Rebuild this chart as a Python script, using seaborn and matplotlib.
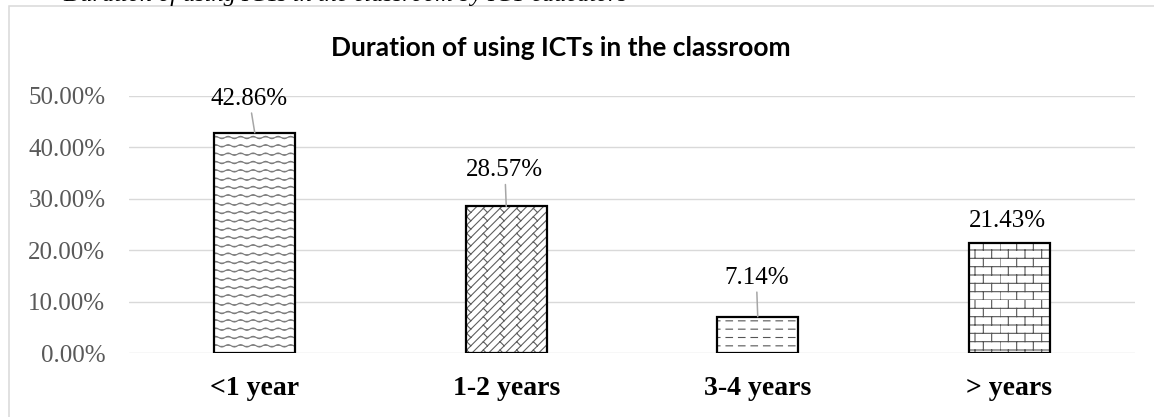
"""
Bar chart: duration of using ICTs in the classroom.
Excel-style look: hatched white bars, serif tick labels, leader lines.
"""
import warnings

import matplotlib
matplotlib.use("Agg")
import matplotlib.hatch as mhatch
import matplotlib.pyplot as plt
import numpy as np
import pandas as pd
import seaborn as sns
from matplotlib.patches import Rectangle
from matplotlib.path import Path

warnings.filterwarnings("ignore")

# ---------------------------------------------------------------------------
# Data
# ---------------------------------------------------------------------------
categories = ["<1 year", "1-2 years", "3-4 years", "> years"]
shares = [42.86, 28.57, 7.14, 21.43]          # percent
y_ticks = [0, 10, 20, 30, 40, 50]

TITLE = "Duration of using ICTs in the classroom"
CAPTION = "Duration of using ICTs in the classroom by ICT educators"

# styling (not data)
hatches = ["~~", "d", "__", "b"]
hatch_colors = ["#7a7a7a", "#5f5f5f", "#555555", "#555555"]
label_offsets = [(-4, 24.5), (-1, 26), (-1, 28), (-1, 16)]   # points
leaders = [True, True, True, False]
GRID_GREY = "#d9d9d9"
SERIF = ["Liberation Serif", "DejaVu Serif"]


# ---------------------------------------------------------------------------
# Extra hatch patterns (Excel "wave", "diagonal brick", "dashed", "brick")
# ---------------------------------------------------------------------------
class WaveHatch(mhatch.HatchPatternBase):
    def __init__(self, hatch, density):
        self.num_rows = int(hatch.count("~") * density)
        self.n_pts = 8 * 8 + 1
        self.num_vertices = self.num_rows * self.n_pts

    def set_vertices_and_codes(self, vertices, codes):
        x = np.linspace(0.0, 1.0, self.n_pts)
        for i in range(self.num_rows):
            sl = slice(i * self.n_pts, (i + 1) * self.n_pts)
            vertices[sl, 0] = x
            vertices[sl, 1] = (i + 0.5) / self.num_rows + 0.012 * np.sin(2 * np.pi * 8 * x)
            codes[sl] = Path.LINETO
            codes[i * self.n_pts] = Path.MOVETO


class DashHatch(mhatch.HatchPatternBase):
    def __init__(self, hatch, density):
        self.num_rows = int(hatch.count("_") * density)
        self.n_dash = 8
        self.num_vertices = self.num_rows * self.n_dash * 2

    def set_vertices_and_codes(self, vertices, codes):
        k = 0
        for i in range(self.num_rows):
            y = (i + 0.5) / self.num_rows
            for j in range(self.n_dash):
                x0 = j / self.n_dash + 0.01
                vertices[k] = (x0, y)
                vertices[k + 1] = (x0 + 0.065, y)
                codes[k] = Path.MOVETO
                codes[k + 1] = Path.LINETO
                k += 2


class BrickHatch(mhatch.HatchPatternBase):
    def __init__(self, hatch, density):
        n = hatch.count("b")
        self.rows = 2 * n * density          # 12 rows per inch
        self.bricks = n * density            # 6 bricks per inch
        self.num_vertices = 2 * self.rows + 2 * self.rows * self.bricks

    def set_vertices_and_codes(self, vertices, codes):
        segs = []
        for i in range(self.rows):
            y0, y1 = i / self.rows, (i + 1) / self.rows
            segs.append(((0.0, y0), (1.0, y0)))
            shift = (i % 2) * 0.5 / self.bricks
            for j in range(self.bricks):
                x = j / self.bricks + shift
                segs.append(((x, y0), (x, y1)))
        for k, (a, b) in enumerate(segs):
            vertices[2 * k] = a
            vertices[2 * k + 1] = b
            codes[2 * k] = Path.MOVETO
            codes[2 * k + 1] = Path.LINETO


class DiagBrickHatch(mhatch.HatchPatternBase):
    def __init__(self, hatch, density):
        n = hatch.count("d")
        self.m = 2 * n * density             # diagonal lines per inch
        self.q = n * density                 # cross marks per unit along a line
        self.n_lines = 2 * self.m
        self.num_vertices = 2 * self.n_lines + 2 * self.n_lines * 3 * self.q

    def set_vertices_and_codes(self, vertices, codes):
        segs = []
        half = 0.5 / self.m
        for k in range(-self.m, self.m):
            c = k / self.m
            segs.append(((c, 0.0), (c + 1.0, 1.0)))
            shift = (k % 2) * 0.5 / self.q
            for j in range(-self.q, 2 * self.q):
                t = j / self.q + shift
                segs.append(((t + c, t), (t + c + half, t - half)))
        for k, (a, b) in enumerate(segs):
            vertices[2 * k] = a
            vertices[2 * k + 1] = b
            codes[2 * k] = Path.MOVETO
            codes[2 * k + 1] = Path.LINETO


mhatch._hatch_types.extend([WaveHatch, DashHatch, BrickHatch, DiagBrickHatch])


# ---------------------------------------------------------------------------
# Plot
# ---------------------------------------------------------------------------
def main() -> None:
    sns.set_theme(style="white")
    plt.rcParams["font.family"] = ["DejaVu Sans"]
    plt.rcParams["hatch.linewidth"] = 0.8

    df = pd.DataFrame({"duration": categories, "share": shares})

    fig, ax = plt.subplots(figsize=(11.54, 4.17), dpi=100)
    fig.subplots_adjust(left=0.1118, right=0.9835, bottom=0.1523, top=0.7698)

    sns.barplot(data=df, x="duration", y="share", color="white", width=0.322,
                linewidth=0, saturation=1, ax=ax, zorder=2)

    for patch, h, hc in zip(ax.patches, hatches, hatch_colors):
        patch.set_edgecolor(hc)
        patch.set_hatch(h)
        ax.add_patch(Rectangle(patch.get_xy(), patch.get_width(), patch.get_height(),
                               fill=False, edgecolor="black", linewidth=1.6, zorder=3))

    # data labels with leader lines
    for i, (v, off, lead) in enumerate(zip(shares, label_offsets, leaders)):
        arrow = dict(arrowstyle="-", color="#a6a6a6", lw=1.1, shrinkA=0, shrinkB=0) if lead else None
        ax.annotate(f"{v:.2f}%", xy=(i, v), xytext=off, textcoords="offset points",
                    ha="center", va="center", fontsize=18, family=SERIF,
                    color="black", arrowprops=arrow, zorder=4)

    ax.set_ylim(0, 50)
    ax.set_yticks(y_ticks)
    ax.set_yticklabels([f"{t:.2f}%" for t in y_ticks], family=SERIF,
                       fontsize=18, color="#595959")
    ax.set_xticks(range(len(categories)))
    ax.set_xticklabels(categories, family=SERIF, fontsize=20, fontweight="bold",
                       color="black")
    ax.tick_params(axis="y", length=0, pad=17)
    ax.tick_params(axis="x", length=0, pad=16)
    ax.set_xlabel("")
    ax.set_ylabel("")

    ax.yaxis.grid(True, color=GRID_GREY, linewidth=1.0)
    ax.set_axisbelow(True)
    sns.despine(ax=ax, left=True, bottom=True)

    # chart title and chart-area frame
    fig.text(0.486, 0.885, TITLE, ha="center", va="center", fontsize=19,
             fontweight="bold", family=["Lato", "DejaVu Sans"], color="black")
    fig.patches.append(Rectangle((9 / 1154, -0.2), 1.2, 1.2 - 6.5 / 417,
                                 transform=fig.transFigure, fill=False,
                                 edgecolor=GRID_GREY, linewidth=1.1, zorder=0))

    # document caption, cut off at the top edge of the picture (as in the source)
    fig.text(0.055, 1 - 1 / 417, CAPTION, ha="left", va="baseline", fontsize=17.5,
             style="italic", family=SERIF, color="black")

    fig.savefig("out.png", dpi=100)
    plt.close(fig)


if __name__ == "__main__":
    main()
